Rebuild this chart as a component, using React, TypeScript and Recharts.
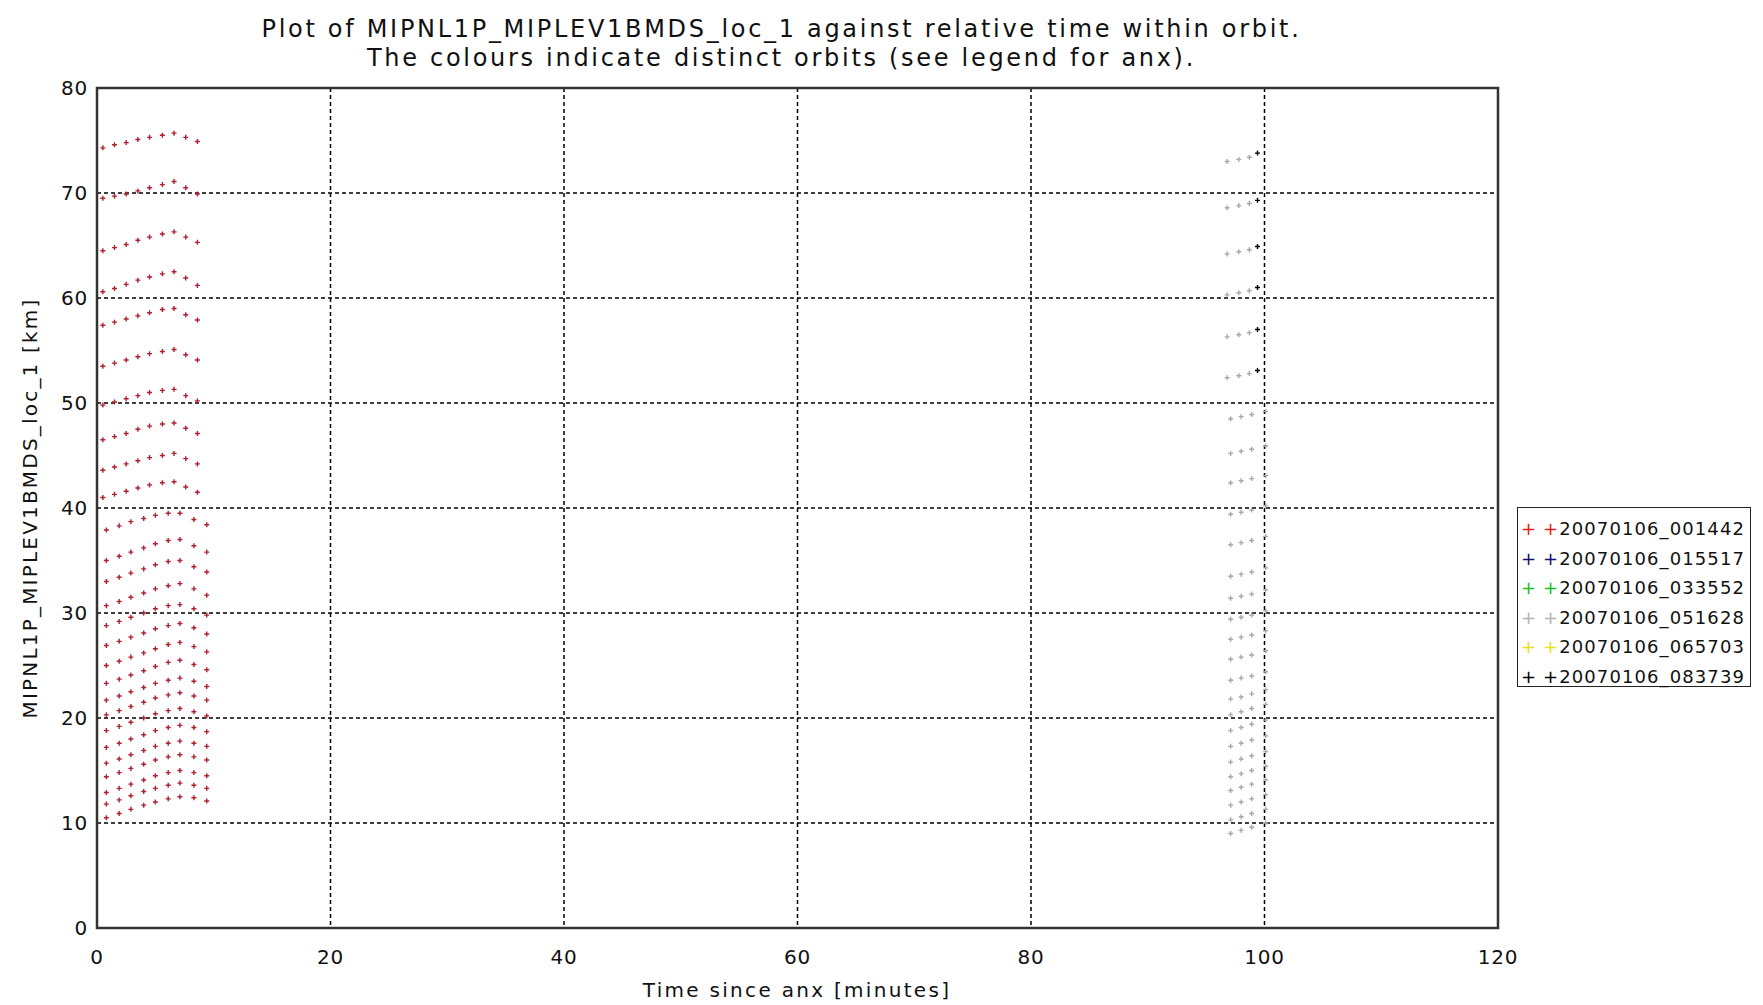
import React from "react";
import { ScatterChart, Scatter, XAxis, YAxis, CartesianGrid, ReferenceArea } from "recharts";

// orbit labels shown in the legend, with their colours
const orbitNames = [
  "20070106_001442",
  "20070106_015517",
  "20070106_033552",
  "20070106_051628",
  "20070106_065703",
  "20070106_083739",
];
const orbitColors = ["#e02020", "#101070", "#20c020", "#b4b4b4", "#e8e020", "#000000"];

const xTicks = [0, 20, 40, 60, 80, 100, 120];
const yTicks = [0, 10, 20, 30, 40, 50, 60, 70, 80];

// orbit 001442 (red): relative times of each scan row, upper and lower part
const redTimesUpper = [0.5, 1.5, 2.5, 3.5, 4.5, 5.6, 6.6, 7.6, 8.6];
const redTimesLower = [0.8, 1.9, 2.9, 4.0, 5.0, 6.1, 7.1, 8.3, 9.4];
const redRowsUpper = [
  [74.3, 74.6, 74.8, 75.1, 75.3, 75.5, 75.7, 75.3, 74.9],
  [69.5, 69.7, 69.9, 70.2, 70.5, 70.8, 71.1, 70.5, 69.9],
  [64.5, 64.8, 65.1, 65.5, 65.8, 66.1, 66.3, 65.8, 65.3],
  [60.6, 60.9, 61.3, 61.7, 62.0, 62.3, 62.5, 61.9, 61.2],
  [57.4, 57.7, 58.0, 58.3, 58.6, 58.9, 59.0, 58.4, 57.9],
  [53.5, 53.8, 54.1, 54.4, 54.7, 54.9, 55.1, 54.6, 54.1],
  [49.8, 50.1, 50.4, 50.7, 51.0, 51.2, 51.3, 50.7, 50.2],
  [46.5, 46.8, 47.1, 47.5, 47.8, 48.0, 48.1, 47.6, 47.1],
  [43.6, 43.9, 44.2, 44.5, 44.8, 45.0, 45.2, 44.7, 44.2],
  [41.0, 41.3, 41.6, 41.9, 42.2, 42.4, 42.5, 42.0, 41.5],
];
const redRowsLower = [
  [37.9, 38.3, 38.7, 39.0, 39.3, 39.5, 39.5, 38.9, 38.4],
  [35.0, 35.4, 35.8, 36.2, 36.6, 36.9, 37.0, 36.4, 35.8],
  [33.0, 33.4, 33.8, 34.2, 34.6, 34.9, 35.0, 34.4, 33.9],
  [30.7, 31.1, 31.5, 31.9, 32.3, 32.6, 32.8, 32.3, 31.7],
  [28.8, 29.2, 29.6, 30.0, 30.4, 30.7, 30.8, 30.4, 29.8],
  [26.9, 27.3, 27.7, 28.1, 28.5, 28.8, 29.0, 28.6, 28.0],
  [25.0, 25.4, 25.8, 26.2, 26.6, 27.0, 27.2, 26.8, 26.3],
  [23.3, 23.7, 24.1, 24.5, 24.9, 25.3, 25.5, 25.1, 24.6],
  [21.7, 22.1, 22.5, 22.9, 23.3, 23.6, 23.8, 23.5, 23.0],
  [20.3, 20.7, 21.1, 21.5, 21.9, 22.2, 22.4, 22.1, 21.7],
  [18.8, 19.2, 19.6, 20.0, 20.4, 20.7, 20.9, 20.6, 20.2],
  [17.2, 17.6, 18.0, 18.4, 18.8, 19.1, 19.3, 19.1, 18.7],
  [15.7, 16.1, 16.5, 16.9, 17.3, 17.6, 17.8, 17.6, 17.3],
  [14.4, 14.8, 15.2, 15.6, 16.0, 16.3, 16.5, 16.3, 16.0],
  [12.9, 13.3, 13.7, 14.1, 14.5, 14.8, 15.0, 14.8, 14.5],
  [11.8, 12.2, 12.6, 13.0, 13.3, 13.6, 13.8, 13.6, 13.3],
  [10.5, 10.9, 11.3, 11.7, 12.0, 12.3, 12.5, 12.4, 12.1],
];

// orbit 051628 (grey)
const greyTimesUpper = [96.8, 97.8, 98.7];
const greyRowsUpper = [
  [73.0, 73.2, 73.4],
  [68.6, 68.8, 69.0],
  [64.2, 64.4, 64.6],
  [60.3, 60.5, 60.7],
  [56.3, 56.5, 56.7],
  [52.4, 52.6, 52.8],
];
const greyTimesLower = [97.1, 98.0, 98.9, 100.1];
const greyRowsLower = [
  [48.5, 48.7, 48.9, 49.2],
  [45.2, 45.4, 45.6, 45.9],
  [42.4, 42.6, 42.8, 43.1],
  [39.4, 39.6, 39.8, 40.2],
  [36.5, 36.7, 36.9, 37.3],
  [33.5, 33.7, 33.9, 34.3],
  [31.4, 31.6, 31.8, 32.2],
  [29.4, 29.6, 29.8, 30.2],
  [27.5, 27.7, 27.9, 28.3],
  [25.6, 25.8, 26.0, 26.4],
  [23.6, 23.8, 24.0, 24.4],
  [21.8, 22.0, 22.3, 22.7],
  [20.3, 20.6, 20.9, 21.3],
  [18.8, 19.1, 19.4, 19.8],
  [17.3, 17.6, 17.9, 18.3],
  [15.8, 16.1, 16.4, 16.8],
  [14.4, 14.7, 15.0, 15.4],
  [13.1, 13.4, 13.7, 14.1],
  [11.7, 12.0, 12.3, 12.7],
  [10.3, 10.6, 10.9, 11.3],
  [9.0, 9.3, 9.6, 10.0],
];

// orbit 083739 (black)
const blackTimes = [99.4, 99.4, 99.4, 99.4, 99.4, 99.4];
const blackAlts = [73.8, 69.3, 64.9, 61.0, 57.0, 53.1];

function rowsToPoints(times: number[], rows: number[][]) {
  const out: { x: number; y: number }[] = [];
  rows.forEach((row) => row.forEach((y, i) => out.push({ x: times[i], y })));
  return out;
}

const redData = [...rowsToPoints(redTimesUpper, redRowsUpper), ...rowsToPoints(redTimesLower, redRowsLower)];
const greyData = [...rowsToPoints(greyTimesUpper, greyRowsUpper), ...rowsToPoints(greyTimesLower, greyRowsLower)];
const blackData = blackTimes.map((x, i) => ({ x, y: blackAlts[i] }));

const markerColors = ["#b02030", "#101070", "#20c020", "#a8a8a8", "#e8e020", "#000000"];
const seriesData = [redData, [], [], greyData, [], blackData];

const font = "'DejaVu Sans', 'Liberation Sans', sans-serif";

// tiny plus sign, like the IDL psym=1 marker
function plusShape(color: string) {
  // eslint-disable-next-line @typescript-eslint/no-explicit-any
  return (props: any) => {
    const { cx, cy } = props;
    if (cx == null || cy == null) return <g />;
    return <path d={`M${cx - 2.5},${cy}h5M${cx},${cy - 2.5}v5`} stroke={color} strokeWidth={1.4} fill="none" />;
  };
}

export default function App() {
  return (
    <div style={{ position: "absolute", left: 0, top: 0, width: 1763, height: 1005, background: "#fff", fontFamily: font }}>
      <div style={{ position: "absolute", left: 81, width: 1401, top: 15, textAlign: "center", fontSize: 24, lineHeight: "29px", letterSpacing: 2.7, color: "#111" }}>
        <div>Plot of MIPNL1P_MIPLEV1BMDS_loc_1 against relative time within orbit.</div>
        <div>The colours indicate distinct orbits (see legend for anx).</div>
      </div>

      <ScatterChart width={1763} height={1005} margin={{ top: 88, right: 265, bottom: 0, left: 0 }}>
        <CartesianGrid stroke="#000" strokeDasharray="4 3" strokeWidth={1.5} horizontalValues={yTicks} verticalValues={xTicks} />
        <XAxis
          type="number"
          dataKey="x"
          domain={[0, 120]}
          ticks={xTicks}
          height={77}
          axisLine={false}
          tickLine={false}
          tickSize={6}
          tickMargin={16}
          tick={{ fill: "#111", fontSize: 20, fontFamily: font, letterSpacing: 0.8 }}
          allowDataOverflow
        />
        <YAxis
          type="number"
          dataKey="y"
          domain={[0, 80]}
          ticks={yTicks}
          width={97}
          axisLine={false}
          tickLine={false}
          tickSize={6}
          tickMargin={3}
          tick={{ fill: "#111", fontSize: 20, fontFamily: font, letterSpacing: 0.8 }}
          allowDataOverflow
        />
        {orbitNames.map((name, i) => (
          <Scatter
            key={name}
            name={name}
            data={seriesData[i]}
            fill={markerColors[i]}
            shape={plusShape(markerColors[i])}
            isAnimationActive={false}
          />
        ))}
        <ReferenceArea x1={0} x2={120} y1={0} y2={80} fill="none" fillOpacity={0} stroke="#333" strokeWidth={2.5} ifOverflow="visible" />
      </ScatterChart>

      <div style={{ position: "absolute", left: 30, top: 508, transform: "translate(-50%, -50%) rotate(-90deg)", whiteSpace: "nowrap", fontSize: 20, letterSpacing: 2.2, color: "#111" }}>
        MIPNL1P_MIPLEV1BMDS_loc_1 [km]
      </div>
      <div style={{ position: "absolute", left: 797, top: 990, transform: "translate(-50%, -50%)", whiteSpace: "nowrap", fontSize: 20, letterSpacing: 2.3, color: "#111" }}>
        Time since anx [minutes]
      </div>

      <div style={{ position: "absolute", left: 1517, top: 507, width: 234, height: 180, border: "1.5px solid #222", background: "#fff", paddingTop: 6, boxSizing: "border-box" }}>
        {orbitNames.map((name, i) => (
          <div key={name} style={{ height: 29.5, display: "flex", alignItems: "center", fontSize: 18, letterSpacing: 1.1, color: "#111", whiteSpace: "nowrap" }}>
            <span style={{ color: orbitColors[i], marginLeft: 3, width: 22 }}>+</span>
            <span style={{ color: orbitColors[i] }}>+</span>
            <span>{name}</span>
          </div>
        ))}
      </div>
    </div>
  );
}
